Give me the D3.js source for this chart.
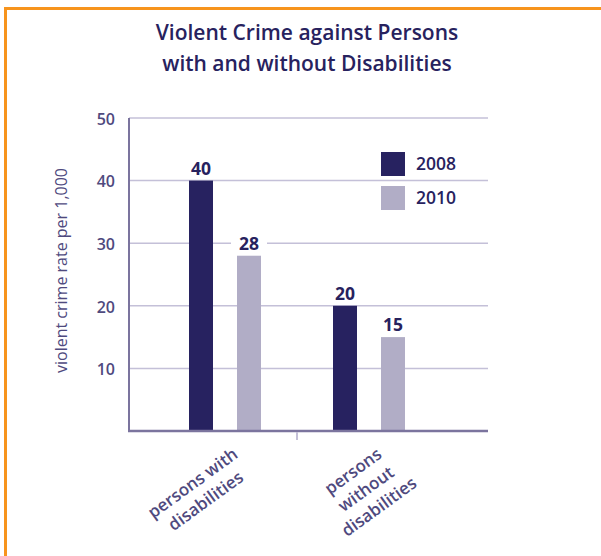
<!DOCTYPE html>
<html>
<head>
<meta charset="utf-8">
<script src="https://cdn.jsdelivr.net/npm/d3@7"></script>
<style>
  html, body { margin: 0; padding: 0; background: #fff; }
  svg { display: block; }
</style>
</head>
<body>
<svg id="chart" width="601" height="556"></svg>
<script>
const titleLines = ["Violent Crime against Persons", "with and without Disabilities"];
const categories = ["persons with disabilities", "persons without disabilities"];
const categoryLines = [["persons with", "disabilities"], ["persons", "without", "disabilities"]];
const seriesNames = ["2008", "2010"];
const values2008 = [40, 20];
const values2010 = [28, 15];
const yTicks = [10, 20, 30, 40, 50];
const yLabel = "violent crime rate per 1,000";

(function () {
const colors = ["#272260", "#b1adc6"];
const textDark = "#27225e";
const textMid = "#4f4a7e";
const font = "'Open Sans', Roboto, 'Liberation Sans', Arial, sans-serif";

const svg = d3.select("#chart");

// orange frame (top & left)
svg.append("rect").attr("x", 4).attr("y", 7).attr("width", 597).attr("height", 3).attr("fill", "#f7941d");
svg.append("rect").attr("x", 4).attr("y", 7).attr("width", 3).attr("height", 549).attr("fill", "#f7941d");

// title
svg.append("text")
  .attr("x", 307).attr("y", 40)
  .attr("text-anchor", "middle")
  .attr("font-family", font).attr("font-weight", 600).attr("font-size", 21)
  .attr("fill", textDark)
  .selectAll("tspan").data(titleLines).join("tspan")
  .attr("x", 307).attr("dy", (d, i) => i === 0 ? 0 : 31)
  .text(d => d);

const pl = 129, pr = 488, pt = 118, pb = 431;

const y = d3.scaleLinear().domain([0, 50]).range([pb, pt]);
const x = d3.scalePoint().domain(categories).range([225, 369]);
const x1 = d3.scaleBand().domain(seriesNames).range([-36, 36]).paddingInner(0.5);

// gridlines
svg.append("g")
  .selectAll("line").data(yTicks).join("line")
  .attr("x1", pl).attr("x2", pr)
  .attr("y1", d => y(d)).attr("y2", d => y(d))
  .attr("stroke", "#c4c0d8").attr("stroke-width", 1.5);

// y tick labels
svg.append("g")
  .selectAll("text").data(yTicks).join("text")
  .attr("x", 115).attr("y", d => y(d))
  .attr("dy", "0.42em")
  .attr("text-anchor", "end")
  .attr("font-family", font).attr("font-weight", 600).attr("font-size", 16)
  .attr("fill", textMid)
  .text(d => d);

// y label
svg.append("text")
  .attr("transform", `translate(67, ${(pt + pb) / 2 - 4}) rotate(-90)`)
  .attr("text-anchor", "middle")
  .attr("font-family", font).attr("font-size", 16)
  .attr("fill", textMid)
  .text(yLabel);

// legend
const legend = svg.append("g");
seriesNames.forEach((s, i) => {
  legend.append("rect").attr("x", 381).attr("y", 152 + i * 34).attr("width", 24).attr("height", 24).attr("fill", colors[i]);
  legend.append("text").attr("x", 416).attr("y", 164 + i * 34).attr("dy", "0.36em")
    .attr("font-family", font).attr("font-weight", 600).attr("font-size", 17.5)
    .attr("fill", textDark).text(s);
});

// bars
const data = categories.map((c, i) => ({ cat: c, vals: [values2008[i], values2010[i]] }));
const groups = svg.append("g").selectAll("g").data(data).join("g")
  .attr("transform", d => `translate(${x(d.cat)},0)`);

groups.selectAll("rect.bar").data(d => d.vals.map((v, j) => ({ s: seriesNames[j], v, j }))).join("rect")
  .attr("class", "bar")
  .attr("x", d => x1(d.s)).attr("width", x1.bandwidth())
  .attr("y", d => y(d.v)).attr("height", d => y(0) - y(d.v))
  .attr("fill", d => colors[d.j]);

// value labels with white background
const lbl = groups.selectAll("g.lbl").data(d => d.vals.map((v, j) => ({ s: seriesNames[j], v, j }))).join("g")
  .attr("class", "lbl")
  .attr("transform", d => `translate(${x1(d.s) + x1.bandwidth() / 2}, ${y(d.v) - 6})`);
lbl.append("rect").attr("x", -18).attr("y", -17).attr("width", 36).attr("height", 20).attr("fill", "#fff");
lbl.append("text").attr("text-anchor", "middle")
  .attr("font-family", font).attr("font-weight", 700).attr("font-size", 17.5)
  .attr("fill", textDark).text(d => d.v);

// axes lines
svg.append("line").attr("x1", pl).attr("x2", pl).attr("y1", pt).attr("y2", pb + 1)
  .attr("stroke", "#7b749e").attr("stroke-width", 2);
svg.append("line").attr("x1", pl - 1).attr("x2", pr).attr("y1", pb).attr("y2", pb)
  .attr("stroke", "#7b749e").attr("stroke-width", 2.5);
// tick between groups
const mid = (x(categories[0]) + x(categories[1])) / 2;
svg.append("line").attr("x1", mid).attr("x2", mid)
  .attr("y1", pb + 1).attr("y2", pb + 9)
  .attr("stroke", "#c4c0d8").attr("stroke-width", 2);

// category labels rotated
categories.forEach((c, i) => {
  const g = svg.append("g").attr("transform", `translate(${x(c) + 7}, 447) rotate(-36)`);
  const t = g.append("text").attr("font-family", font).attr("font-weight", 600).attr("font-size", 17)
    .attr("fill", textMid).attr("text-anchor", "middle");
  const lines = categoryLines[i];
  const spans = t.selectAll("tspan").data(lines).join("tspan").attr("x", 0).attr("y", (d, k) => 12 + k * 22).text(d => d);
  const w1 = spans.nodes()[0].getComputedTextLength();
  spans.attr("x", -w1 / 2);
});
})();
</script>
</body>
</html>
